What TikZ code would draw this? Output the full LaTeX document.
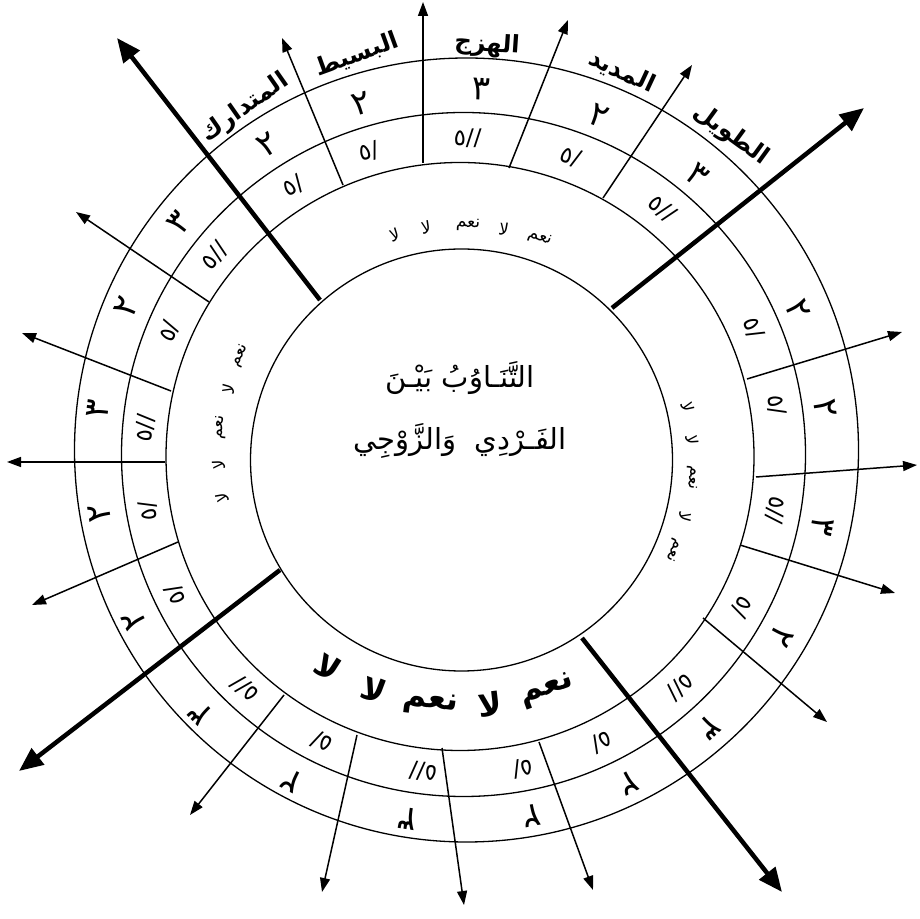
\documentclass[tikz,border=0pt]{standalone}
\usepackage{fontspec}
\usetikzlibrary{arrows.meta}
\TeXXeTstate=1
\newfontfamily\arfont[Script=Arabic]{DejaVu Sans}
\newfontfamily\djfont{DejaVu Sans}
\newcommand\sone{٥/}
\newcommand\stwo{٥//}
\begin{document}
\begin{tikzpicture}[x=1pt,y=1pt,
  ring/.style={line width=1.3pt},
  thinarrow/.style={line width=1.5pt,-{Triangle[length=14pt,width=10pt]}},
  thickarrow/.style={line width=4.5pt,-{Triangle[length=24pt,width=20pt]}},
  ringnum/.style={font=\djfont\fontsize{34}{34}\selectfont, inner sep=0pt},
  ringsym/.style={font=\djfont\fontsize{23}{23}\selectfont, inner sep=0pt},
  meter/.style={font=\arfont\bfseries\fontsize{24}{24}\selectfont, inner sep=0pt},
  ynsmall/.style={font=\arfont\fontsize{17}{17}\selectfont, inner sep=0pt},
  ynbig/.style={font=\arfont\bfseries\fontsize{32}{32}\selectfont, inner sep=0pt},
  titlestyle/.style={font=\arfont\fontsize{29}{62}\selectfont, align=center, inner sep=0pt}
]
\useasboundingbox (0,0) rectangle (920,918);
\coordinate (C) at (462,462);
% circles
\draw[ring] (461.5,458) circle[radius=211];
\draw[ring] (460,461.5) circle[radius=294];
\draw[ring] (463.5,463.5) circle[radius=342];
\draw[ring] (466.5,468) circle[radius=392];
% thin arrows
\foreach \n/\a/\b in {t1/{343,733}/{282,880}, t2/{423,755}/{423,916}, t3/{509,750}/{568,898}, t4/{603,720}/{692,853},
  r1/{747,539}/{902,586}, r2/{756,441}/{917,453}, r3/{740,373}/{895,325}, r4/{703,300}/{827,196},
  b1/{284,223}/{190,103}, b2/{357,183}/{322,26}, b3/{442,170}/{464,13}, b4/{539,176}/{593,28},
  l1/{209,616}/{76,706}, l2/{171,527}/{22,585}, l3/{165,456}/{7,456}, l4/{178,376}/{32,313}}
{
  \coordinate (\n s) at (\a);
  \coordinate (\n e) at (\b);
  \draw[thinarrow] (\n s) -- (\n e);
}
% thick arrows
\foreach \n/\a/\b in {k1/{320,618}/{117,880}, k2/{612,610}/{864,810}, k3/{280,348}/{19,147}, k4/{582,280}/{782,26}}
{
  \coordinate (\n s) at (\a);
  \coordinate (\n e) at (\b);
  \draw[thickarrow] (\n s) -- (\n e);
}
% outer ring numbers
\foreach \a/\t [count=\i] in {122/٢, 106/٢, 87/٣, 68/٢, 50/٣,
  23.6/٢, 7.5/٢, -11/٣, -29.5/٢, -47.7/٣,
  224.6/٣, 242.3/٢, 261.5/٣, 281/٢, 297/٢,
  140.5/٣, 156/٢, 172.7/٣, 189/٢, 206.6/٢}
  \node[ringnum, rotate=\a-90] (num\i) at ([shift={(\a:367)}]C) {\t};
% inner ring symbols
\foreach \a/\t [count=\i] in {122/\sone, 107/\sone, 89/\stwo, 70/\sone, 51/\stwo,
  23.7/\sone, 9.2/\sone, -9.8/\stwo, -28.4/\sone, -46.6/\stwo,
  227/\stwo, 244/\sone, 263/\stwo, 281/\sone, 296/\sone,
  141/\stwo, 157/\sone, 175/\stwo, 190/\sone, 205.8/\sone}
  \node[ringsym, rotate=\a-90] (sym\i) at ([shift={(\a:318)}]C) {\t};
% meter names
\node[meter, rotate=35] (m1) at (245,810) {\beginR المتدارك\endR};
\node[meter, rotate=20] (m2) at (357,863) {\beginR البسيط\endR};
\node[meter, rotate=-4] (m3) at (487,873) {\beginR الهزج\endR};
\node[meter, rotate=-25] (m4) at (622,846) {\beginR المديد\endR};
\node[meter, rotate=-36] (m5) at (731,783) {\beginR الطويل\endR};
% yes/no small
\foreach \a/\t [count=\i] in {107/لا, 99/لا, 88.5/نعم, 79.6/لا, 70.4/نعم}
  \node[ynsmall, rotate=\a-90] (yt\i) at ([shift={(\a:231)}]C) {\beginR\t\endR};
\foreach \a/\t [count=\i] in {155.7/نعم, 164/لا, 173.3/نعم, 182/لا, 190/لا}
  \node[ynsmall, rotate=\a-90] (yl\i) at ([shift={(\a:243)}]C) {\beginR\t\endR};
\foreach \a/\t [count=\i] in {12.2/لا, 4/لا, -5.3/نعم, -15.2/لا, -24/نعم}
  \node[ynsmall, rotate=\a-90] (yr\i) at ([shift={(\a:231)}]C) {\beginR\t\endR};
\foreach \a/\t [count=\i] in {237.5/لا, 249.4/لا, 262.8/نعم, 276.5/لا, 290/نعم}
  \node[ynbig, rotate=\a+90] (yb\i) at ([shift={(\a:250)}]C) {\beginR\t\endR};
% title
\node[titlestyle] (title) at (460,508) {\beginR التَّنَـاوُبُ بَيْـنَ\endR\\\beginR الفَـرْدِي\ \ وَالزَّوْجِي\endR};
\end{tikzpicture}
\end{document}
